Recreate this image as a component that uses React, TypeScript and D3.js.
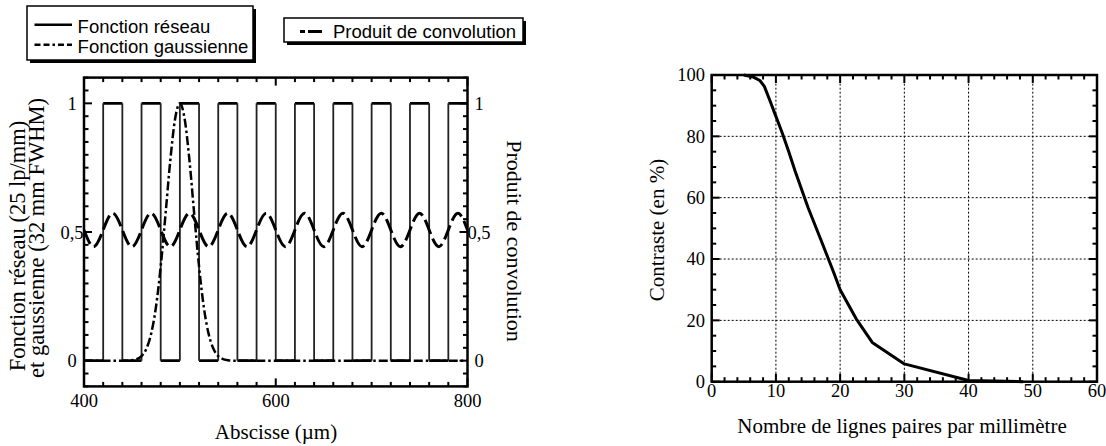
import React from "react";
import * as d3 from "d3";

// ---------- Left chart data ----------
const gratingPulses: [number, number][] = [
  [420, 440], [460, 480], [500, 520], [540, 560], [580, 600],
  [620, 640], [660, 680], [700, 720], [740, 760], [780, 800],
];
const gaussX = [400, 445, 450, 455, 460, 465, 470, 475, 480, 485, 490, 495, 500, 505, 510, 515, 520, 525, 530, 535, 540, 545, 550, 555, 800];
const gaussY = [0, 0, 0.002, 0.006, 0.018, 0.046, 0.104, 0.207, 0.366, 0.568, 0.778, 0.939, 1, 0.939, 0.778, 0.568, 0.366, 0.207, 0.104, 0.046, 0.018, 0.006, 0.002, 0, 0];
const convX = [400, 410, 420, 430, 440, 450, 460, 470, 480, 490, 500, 510, 520, 530, 540, 550, 560, 570, 580, 590, 600, 610, 620, 630, 640, 650, 660, 670, 680, 690, 700, 710, 720, 730, 740, 750, 760, 770, 780, 790, 800];
const convY = [0.508, 0.443, 0.508, 0.573, 0.508, 0.443, 0.508, 0.573, 0.508, 0.443, 0.508, 0.573, 0.508, 0.443, 0.508, 0.573, 0.508, 0.443, 0.508, 0.573, 0.508, 0.443, 0.508, 0.573, 0.508, 0.443, 0.508, 0.573, 0.508, 0.443, 0.508, 0.573, 0.508, 0.443, 0.508, 0.573, 0.508, 0.443, 0.508, 0.573, 0.508];
const leftXTicks = [400, 600, 800];
const leftYTicks = [0, 0.5, 1];
const leftYTickLabels = ["0", "0,5", "1"];

// ---------- Right chart data ----------
const mtfX = [5, 6.5, 7.5, 8.2, 9, 10, 11, 12, 13, 15, 17, 19, 20, 22.5, 25, 30, 40, 48.5];
const mtfY = [100, 99.3, 98.2, 96.3, 92, 86.5, 81, 75, 68.6, 56.8, 46.3, 35.6, 30, 20.5, 12.8, 5.8, 0.4, 0];
const rightXTicks = [0, 10, 20, 30, 40, 50, 60];
const rightYTicks = [0, 20, 40, 60, 80, 100];

const SERIF = "'Liberation Serif', 'Times New Roman', serif";
const SANS = "'Liberation Sans', Arial, sans-serif";

export default function App() {
  // Left plot scales
  const lx = d3.scaleLinear().domain([400, 800]).range([84, 467.5]);
  const ly = d3.scaleLinear().domain([-0.1, 1.1]).range([386.4, 77.6]);
  // Right plot scales
  const rx = d3.scaleLinear().domain([0, 60]).range([711.7, 1097]);
  const ry = d3.scaleLinear().domain([0, 100]).range([381.7, 75]);

  // square wave: horizontal and vertical segments
  const horiz: [number, number][][] = [];
  const vert: [number, number][][] = [];
  let prev = 400;
  gratingPulses.forEach(([a, b]) => {
    horiz.push([[prev, 0], [a, 0]]);
    horiz.push([[a, 1], [b, 1]]);
    vert.push([[a, 0], [a, 1]]);
    if (b < 800) vert.push([[b, 1], [b, 0]]);
    prev = b;
  });
  const lineL = d3.line<[number, number]>().x((d) => lx(d[0])).y((d) => ly(d[1]));
  const gaussPath =
    d3.line<number>().x((_, i) => lx(gaussX[i])).y((d) => ly(d)).curve(d3.curveMonotoneX)(gaussY) || "";
  const convPath =
    d3.line<number>().x((_, i) => lx(convX[i])).y((d) => ly(d)).curve(d3.curveNatural)(convY) || "";
  const mtfPath =
    d3.line<number>().x((_, i) => rx(mtfX[i])).y((d) => ry(d))(mtfY) || "";

  const lxMinor = d3.range(400, 801, 20);
  const lyMinor = d3.range(-0.1, 1.1001, 0.05).map((v) => Math.round(v * 100) / 100);
  const rxMinor = d3.range(0, 61, 2);
  const ryMinor = d3.range(0, 101, 5);

  const ticks: JSX.Element[] = [];
  lxMinor.forEach((v, i) => {
    const major = leftXTicks.includes(v);
    const len = major ? 8 : 4.5;
    const x = lx(v);
    ticks.push(<line key={"lxb" + i} x1={x} x2={x} y1={ly(-0.1)} y2={ly(-0.1) - len} />);
    ticks.push(<line key={"lxt" + i} x1={x} x2={x} y1={ly(1.1)} y2={ly(1.1) + len} />);
  });
  lyMinor.forEach((v, i) => {
    const major = leftYTicks.includes(v);
    const len = major ? 8 : 4.5;
    const y = ly(v);
    ticks.push(<line key={"lyl" + i} x1={lx(400)} x2={lx(400) + len} y1={y} y2={y} />);
    ticks.push(<line key={"lyr" + i} x1={lx(800)} x2={lx(800) - len} y1={y} y2={y} />);
  });
  rxMinor.forEach((v, i) => {
    const major = rightXTicks.includes(v);
    const len = major ? 8 : 4.5;
    const x = rx(v);
    ticks.push(<line key={"rxb" + i} x1={x} x2={x} y1={ry(0)} y2={ry(0) - len} />);
    ticks.push(<line key={"rxt" + i} x1={x} x2={x} y1={ry(100)} y2={ry(100) + len} />);
  });
  ryMinor.forEach((v, i) => {
    const major = rightYTicks.includes(v);
    const len = major ? 8 : 4.5;
    const y = ry(v);
    ticks.push(<line key={"ryl" + i} x1={rx(0)} x2={rx(0) + len} y1={y} y2={y} />);
    ticks.push(<line key={"ryr" + i} x1={rx(60)} x2={rx(60) - len} y1={y} y2={y} />);
  });

  return (
    <div style={{ position: "absolute", left: 0, top: 0 }}>
      <svg width={1106} height={446} style={{ display: "block", background: "#fff" }}>
        <rect x={0} y={0} width={1106} height={446} fill="#fff" />

        {/* Legend 1 */}
        <rect x={30} y={9} width={226} height={54} fill="#000" />
        <rect x={27} y={6} width={226} height={54} fill="#fff" stroke="#000" strokeWidth={1.5} />
        <line x1={34.5} x2={72} y1={24.8} y2={24.8} stroke="#000" strokeWidth={2.5} />
        <line x1={34.5} x2={72} y1={44.8} y2={44.8} stroke="#000" strokeWidth={2.5} strokeDasharray="6,3,6,3,2.5,3" />
        <text x={77.6} y={32.5} fontFamily={SANS} fontSize={18.5}>Fonction réseau</text>
        <text x={77.6} y={52.5} fontFamily={SANS} fontSize={18.5}>Fonction gaussienne</text>

        {/* Legend 2 */}
        <rect x={287} y={21} width={239} height={24} fill="#000" />
        <rect x={284} y={18} width={239} height={24} fill="#fff" stroke="#000" strokeWidth={1.5} />
        <line x1={300} x2={322} y1={31.5} y2={31.5} stroke="#000" strokeWidth={3} strokeDasharray="5,3,14" />
        <text x={333} y={37.5} fontFamily={SANS} fontSize={18.5}>Produit de convolution</text>

        {/* Left plot curves */}
        <defs>
          <clipPath id="clipL">
            <rect x={lx(400)} y={ly(1.1)} width={lx(800) - lx(400)} height={ly(-0.1) - ly(1.1)} />
          </clipPath>
        </defs>
        <g clipPath="url(#clipL)">
          {horiz.map((seg, i) => (
            <path key={"h" + i} d={lineL(seg) || ""} fill="none" stroke="#000" strokeWidth={2.6} />
          ))}
          {vert.map((seg, i) => (
            <path key={"v" + i} d={lineL(seg) || ""} fill="none" stroke="#222" strokeWidth={1.8} />
          ))}
          <path d={gaussPath} fill="none" stroke="#000" strokeWidth={2.5} strokeDasharray="9,3,2.5,3" />
          <path d={convPath} fill="none" stroke="#000" strokeWidth={3} strokeDasharray="15,5" />
        </g>

        {/* Right plot grid */}
        <g stroke="#000" strokeWidth={1} strokeDasharray="2,2">
          {rightXTicks.slice(1, -1).map((v) => (
            <line key={"gx" + v} x1={rx(v)} x2={rx(v)} y1={ry(0)} y2={ry(100)} />
          ))}
          {rightYTicks.slice(1, -1).map((v) => (
            <line key={"gy" + v} x1={rx(0)} x2={rx(60)} y1={ry(v)} y2={ry(v)} />
          ))}
        </g>
        <path d={mtfPath} fill="none" stroke="#000" strokeWidth={3} strokeLinejoin="round" />

        {/* ticks */}
        <g stroke="#000" strokeWidth={2}>{ticks}</g>

        {/* frames */}
        <rect x={lx(400)} y={ly(1.1)} width={lx(800) - lx(400)} height={ly(-0.1) - ly(1.1)} fill="none" stroke="#000" strokeWidth={2.5} />
        <rect x={rx(0)} y={ry(100)} width={rx(60) - rx(0)} height={ry(0) - ry(100)} fill="none" stroke="#000" strokeWidth={2.5} />

        {/* Left tick labels */}
        <g fontFamily={SERIF} fontSize={18.5} fill="#000" textAnchor="middle">
          {leftXTicks.map((v) => (
            <text key={"lxl" + v} x={lx(v)} y={407}>{v}</text>
          ))}
          {leftYTicks.map((v, i) => (
            <text key={"lyl" + v} x={72} y={ly(v) + 6.5}>{leftYTickLabels[i]}</text>
          ))}
          {leftYTicks.map((v, i) => (
            <text key={"lyr" + v} x={479} y={ly(v) + 6.5}>{leftYTickLabels[i]}</text>
          ))}
        </g>

        {/* Right tick labels */}
        <g fontFamily={SERIF} fontSize={18.5} fill="#000">
          {rightXTicks.map((v) => (
            <text key={"rxl" + v} x={rx(v)} y={397} textAnchor="middle">{v}</text>
          ))}
          {rightYTicks.map((v) => (
            <text key={"ryl" + v} x={705} y={ry(v) + 6.2} textAnchor="end">{v}</text>
          ))}
        </g>

        {/* Axis titles */}
        <g fontFamily={SERIF} fill="#000" textAnchor="middle">
          <text x={276} y={439} fontSize={21}>Abscisse (µm)</text>
          <text x={902} y={433} fontSize={21}>Nombre de lignes paires par millimètre</text>
          <text transform="translate(25,246) rotate(-90)" fontSize={22.5}>Fonction réseau (25 lp/mm)</text>
          <text transform="translate(44,238) rotate(-90)" fontSize={22.5}>et gaussienne (32 mm FWHM)</text>
          <text transform="translate(507,241) rotate(90)" fontSize={22}>Produit de convolution</text>
          <text transform="translate(664,230) rotate(-90)" fontSize={21}>Contraste (en %)</text>
        </g>
      </svg>
    </div>
  );
}
